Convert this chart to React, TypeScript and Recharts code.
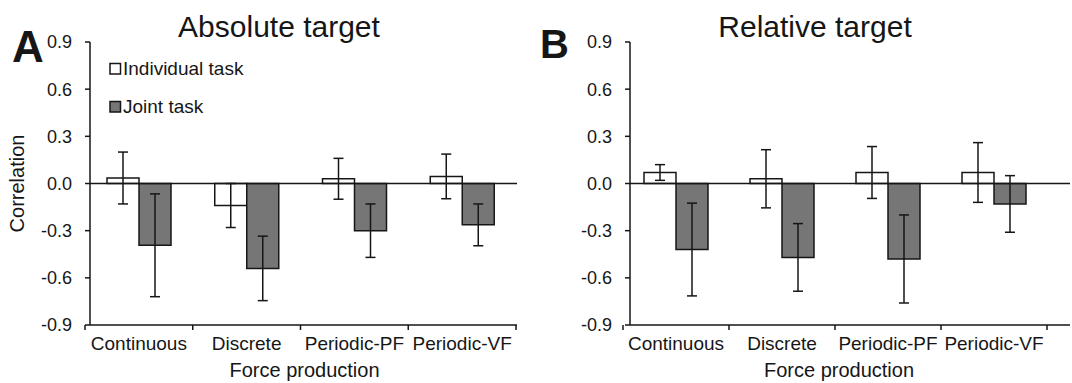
import React from 'react';
import { BarChart, Bar, XAxis, YAxis, ErrorBar, ReferenceLine, Legend } from 'recharts';

const categories = ['Continuous', 'Discrete', 'Periodic-PF', 'Periodic-VF'];
const yTicks = [0.9, 0.6, 0.3, 0, -0.3, -0.6, -0.9];

// panel A - absolute target
const absIndividual = [0.035, -0.14, 0.03, 0.045];
const absIndividualErr = [0.165, 0.14, 0.13, 0.142];
const absJoint = [-0.393, -0.54, -0.3, -0.263];
const absJointErr = [0.327, 0.205, 0.17, 0.133];

// panel B - relative target
const relIndividual = [0.07, 0.03, 0.07, 0.07];
const relIndividualErr = [0.05, 0.185, 0.165, 0.19];
const relJoint = [-0.42, -0.47, -0.48, -0.13];
const relJointErr = [0.295, 0.215, 0.28, 0.18];

const FONT = '"Liberation Sans", Arial, sans-serif';
const INK = '#161616';
const GREY = '#767676';
const TICK_SIZE = 5;
const X_TICK_MARGIN = 7;

const buildRows = (ind: number[], indErr: number[], joint: number[], jointErr: number[]) =>
  categories.map((name, i) => ({
    name,
    individual: ind[i],
    individualErr: indErr[i],
    joint: joint[i],
    jointErr: jointErr[i],
  }));

const absData = buildRows(absIndividual, absIndividualErr, absJoint, absJointErr);
const relData = buildRows(relIndividual, relIndividualErr, relJoint, relJointErr);

// category label plus tick marks on the category boundaries
const CategoryTick = (props: any) => {
  const { x, y, payload, index, visibleTicksCount } = props;
  const half = payload && payload.offset ? payload.offset : 0;
  const axisY = y - TICK_SIZE - X_TICK_MARGIN;
  return (
    <g>
      <line x1={x - half} x2={x - half} y1={axisY} y2={axisY + TICK_SIZE} stroke={INK} strokeWidth={1.5} />
      {index === visibleTicksCount - 1 && (
        <line x1={x + half} x2={x + half} y1={axisY} y2={axisY + TICK_SIZE} stroke={INK} strokeWidth={1.5} />
      )}
      <text x={x} y={y} dy="0.71em" textAnchor="middle" fontSize={19} fill={INK} fontFamily={FONT}>
        {payload.value}
      </text>
    </g>
  );
};

const renderLegend = () => (
  <svg width={170} height={64} style={{ display: 'block' }}>
    <rect x={2} y={8.5} width={10.5} height={10.5} fill="#fff" stroke={INK} strokeWidth={1.5} />
    <text x={15} y={20} fontSize={19} fill={INK} fontFamily={FONT}>Individual task</text>
    <rect x={2} y={46.5} width={10.5} height={10.5} fill={GREY} stroke={INK} strokeWidth={1.5} />
    <text x={15} y={58} fontSize={19} fill={INK} fontFamily={FONT}>Joint task</text>
  </svg>
);

const CorrelationLabel = (props: any) => {
  const vb = props.viewBox || {};
  const cy = vb.height ? vb.y + vb.height / 2 : 183.5;
  return (
    <text
      x={17}
      y={cy}
      transform={`rotate(-90, 17, ${cy})`}
      textAnchor="middle"
      dominantBaseline="central"
      fontSize={20}
      fill={INK}
      fontFamily={FONT}
    >
      Correlation
    </text>
  );
};

const makeXLabel = (dx: number) => (props: any) => {
  const vb = props.viewBox || {};
  const cx = (vb.width ? vb.x + vb.width / 2 : 300) + dx;
  return (
    <text x={cx} y={377} textAnchor="middle" fontSize={20} fill={INK} fontFamily={FONT}>
      Force production
    </text>
  );
};

interface PanelProps {
  data: any[];
  yAxisWidth: number;
  rightMargin: number;
  padLeft: number;
  padRight: number;
  xLabelDx: number;
  showLegend?: boolean;
  showYLabel?: boolean;
}

const Panel: React.FC<PanelProps> = ({ data, yAxisWidth, rightMargin, padLeft, padRight, xLabelDx, showLegend, showYLabel }) => (
  <BarChart
    width={536}
    height={383}
    data={data}
    margin={{ top: 42, right: rightMargin, bottom: 0, left: 0 }}
    barGap={0}
    barSize={32}
    style={{ fontFamily: FONT }}
  >
    <XAxis
      dataKey="name"
      height={58}
      padding={{ left: padLeft, right: padRight }}
      axisLine={{ stroke: INK, strokeWidth: 1.5 }}
      tickLine={false}
      tickSize={TICK_SIZE}
      tickMargin={X_TICK_MARGIN}
      tick={<CategoryTick />}
      interval={0}
      label={{ content: makeXLabel(xLabelDx) }}
    />
    <YAxis
      width={yAxisWidth}
      domain={[-0.9, 0.9]}
      ticks={yTicks}
      interval={0}
      allowDataOverflow
      tickFormatter={(v: number) => v.toFixed(1)}
      axisLine={{ stroke: INK, strokeWidth: 1.5 }}
      tickLine={{ stroke: INK, strokeWidth: 1.5 }}
      tickSize={TICK_SIZE}
      tickMargin={13}
      tick={{ fontSize: 18, fill: INK }}
      label={showYLabel ? <CorrelationLabel /> : undefined}
    />
    {showLegend && (
      <Legend
        content={renderLegend}
        layout="horizontal"
        align="center"
        verticalAlign="middle"
        wrapperStyle={{ left: 108, top: 55, width: 170, height: 64 }}
      />
    )}
    <Bar dataKey="individual" fill="#ffffff" stroke={INK} strokeWidth={1.5} isAnimationActive={false}>
      <ErrorBar dataKey="individualErr" width={5} stroke={INK} strokeWidth={1.5} direction="y" />
    </Bar>
    <Bar dataKey="joint" fill={GREY} stroke={INK} strokeWidth={1.5} isAnimationActive={false}>
      <ErrorBar dataKey="jointErr" width={5} stroke={INK} strokeWidth={1.5} direction="y" />
    </Bar>
    <ReferenceLine y={0} stroke={INK} strokeWidth={1.5} />
  </BarChart>
);

export default function App() {
  return (
    <div style={{ position: 'absolute', left: 0, top: 0, width: 1072, height: 383, overflow: 'hidden', background: '#fff' }}>
      <div style={{ position: 'absolute', left: 0, top: 0 }}>
        <Panel data={absData} yAxisWidth={90} rightMargin={19} padLeft={-5} padRight={1} xLabelDx={1} showLegend showYLabel />
      </div>
      <div style={{ position: 'absolute', left: 536, top: 0 }}>
        <Panel data={relData} yAxisWidth={94} rightMargin={2} padLeft={-7} padRight={23} xLabelDx={-11} />
      </div>
      <svg width={1072} height={383} style={{ position: 'absolute', left: 0, top: 0, pointerEvents: 'none' }}>
        <text x={279} y={36.7} textAnchor="middle" fontSize={30} fill={INK} fontFamily={FONT}>Absolute target</text>
        <text x={815} y={36.7} textAnchor="middle" fontSize={30} fill={INK} fontFamily={FONT}>Relative target</text>
        <text x={12} y={61.7} fontSize={44} fontWeight="bold" fill={INK} fontFamily={FONT}>A</text>
        <text x={540} y={58} fontSize={40} fontWeight="bold" fill={INK} fontFamily={FONT}>B</text>
      </svg>
    </div>
  );
}
